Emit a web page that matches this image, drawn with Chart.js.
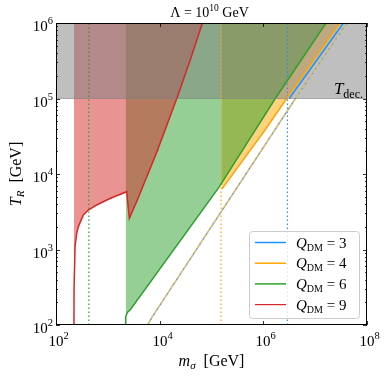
<!DOCTYPE html>
<html>
<head>
<meta charset="utf-8">
<script src="https://cdn.jsdelivr.net/npm/chart.js@4"></script>
<style>
body { margin: 0; background: #fff; }
#wrap { width: 385px; height: 379px; }
</style>
</head>
<body>
<div id="wrap"><canvas id="chart"></canvas></div>
<script>
var xTicks = [1e2, 1e4, 1e6, 1e8];
var yTicks = [1e2, 1e3, 1e4, 1e5, 1e6];
var xTickExp = ['2', '4', '6', '8'];
var yTickExp = ['2', '3', '4', '5', '6'];

// decoupling band
var tDec = 1e5;
var tTop = 1e6;

// Q_DM = 9
var redX = [222, 223, 233, 251, 269, 337, 421, 610, 1096, 2312, 2600, 3715, 8913, 21380, 39800, 66800];
var redY = [100, 300, 1096, 1640, 1995, 2864, 3334, 3890, 4730, 5830, 2590, 4530, 19950, 1e5, 338800, 1e6];

// Q_DM = 6
var greenX = [2213, 2213, 2399, 2692, 141000, 1.70e6, 1.62e7];
var greenY = [100, 129, 148, 158, 6760, 1e5, 1e6];

// Q_DM = 4
var orangeX = [158500, 1.07e6, 2.82e6, 3.02e7];
var orangeY = [6310, 38000, 1e5, 1e6];

// Q_DM = 3
var blueX = [3.16e6, 3.51e7];
var blueY = [1e5, 1e6];

// dashed line
var dashX = [5890, 7080, 4.17e6, 4.07e7];
var dashY = [100, 126, 1e5, 1e6];

// vertical cuts
var greenCut = 430;
var orangeCut = 153000;
var blueCut = 2.92e6;

var red = 'rgb(214, 39, 40)';
var green = 'rgb(44, 160, 44)';
var orange = 'rgb(255, 165, 0)';
var blue = 'rgb(30, 144, 255)';

var serif = '"Liberation Serif", serif';

function pts(xs, ys) {
    var out = [];
    for (var i = 0; i < xs.length; i++) out.push({ x: xs[i], y: ys[i] });
    return out;
}

function vline(x) {
    return [{ x: x, y: 100 }, { x: x, y: 1e6 }];
}

function drawParts(ctx, x, y, parts, align) {
    var w = 0;
    parts.forEach(function (p) { ctx.font = p.f; w += ctx.measureText(p.t).width; });
    if (align == 'center') x -= w / 2;
    if (align == 'right') x -= w;
    ctx.textAlign = 'left';
    ctx.textBaseline = 'alphabetic';
    parts.forEach(function (p) {
        ctx.font = p.f;
        ctx.fillText(p.t, x, y + (p.dy || 0));
        x += ctx.measureText(p.t).width;
    });
}

var decor = {
    id: 'decor',
    afterDraw: function (chart) {
        var ctx = chart.ctx;
        var a = chart.chartArea;
        var xs = chart.scales.x, ys = chart.scales.y;
        ctx.save();
        ctx.fillStyle = '#000';
        ctx.strokeStyle = '#000';

        // frame
        ctx.lineWidth = 1;
        ctx.strokeRect(a.left + 0.5, a.top + 0.5, a.right - a.left - 1, a.bottom - a.top - 1);

        // x ticks
        ctx.lineWidth = 0.8;
        xTicks.forEach(function (v, i) {
            var px = Math.round(xs.getPixelForValue(v)) + 0.5;
            ctx.beginPath();
            ctx.moveTo(px, a.bottom); ctx.lineTo(px, a.bottom - 4);
            ctx.moveTo(px, a.top); ctx.lineTo(px, a.top + 4);
            ctx.stroke();
            drawParts(ctx, px + 2, a.bottom + 20.5, [
                { t: '10', f: '15px ' + serif },
                { t: xTickExp[i], f: '10.5px ' + serif, dy: -7 }
            ], 'center');
        });

        // y ticks, major and minor
        yTicks.forEach(function (v, i) {
            var py = Math.round(ys.getPixelForValue(v)) + 0.5;
            ctx.beginPath();
            ctx.moveTo(a.left, py); ctx.lineTo(a.left + 4, py);
            ctx.moveTo(a.right, py); ctx.lineTo(a.right - 4, py);
            ctx.stroke();
            drawParts(ctx, a.left - 3, py + 7, [
                { t: '10', f: '15px ' + serif },
                { t: yTickExp[i], f: '10.5px ' + serif, dy: -7 }
            ], 'right');
            if (i < yTicks.length - 1) {
                for (var k = 2; k < 10; k++) {
                    var my = Math.round(ys.getPixelForValue(v * k)) + 0.5;
                    ctx.beginPath();
                    ctx.moveTo(a.left, my); ctx.lineTo(a.left + 2, my);
                    ctx.moveTo(a.right, my); ctx.lineTo(a.right - 2, my);
                    ctx.stroke();
                }
            }
        });

        // title
        drawParts(ctx, (a.left + a.right) / 2 - 2, 16.5, [
            { t: '\u039B = 10', f: '14px ' + serif },
            { t: '10', f: '9.5px ' + serif, dy: -5.5 },
            { t: ' GeV', f: '14px ' + serif }
        ], 'center');

        // x label
        drawParts(ctx, (a.left + a.right) / 2, 366, [
            { t: 'm', f: 'italic 16px ' + serif },
            { t: '\u03C3', f: 'italic 11px ' + serif, dy: 3 },
            { t: '  [GeV]', f: '16px ' + serif }
        ], 'center');

        // y label
        ctx.save();
        ctx.translate(21, (a.top + a.bottom) / 2);
        ctx.rotate(-Math.PI / 2);
        drawParts(ctx, 0, 0, [
            { t: 'T', f: 'italic 16px ' + serif },
            { t: 'R', f: 'italic 11px ' + serif, dy: 3 },
            { t: '  [GeV]', f: '16px ' + serif }
        ], 'center');
        ctx.restore();

        // T_dec label
        var decY = ys.getPixelForValue(tDec);
        drawParts(ctx, a.right - 4, decY - 5, [
            { t: 'T', f: 'italic 17px ' + serif },
            { t: 'dec.', f: '12px ' + serif, dy: 4 }
        ], 'right');

        // legend
        var bx = a.right - 118, by = a.bottom - 94, bw = 110, bh = 87;
        ctx.fillStyle = 'rgba(255,255,255,0.8)';
        ctx.strokeStyle = '#cccccc';
        ctx.lineWidth = 1;
        ctx.beginPath();
        ctx.roundRect(bx + 0.5, by + 0.5, bw, bh, 3);
        ctx.fill();
        ctx.stroke();
        var entries = [[blue, '3', 1.5], [orange, '4', 1.5], [green, '6', 1.5], [red, '9', 1.2]];
        entries.forEach(function (e, i) {
            var ry = by + 11.5 + i * 20.7;
            ctx.strokeStyle = e[0];
            ctx.lineWidth = e[2];
            ctx.beginPath();
            ctx.moveTo(bx + 6, ry); ctx.lineTo(bx + 37, ry);
            ctx.stroke();
            ctx.fillStyle = '#000';
            drawParts(ctx, bx + 47, ry + 5, [
                { t: 'Q', f: 'italic 15px ' + serif },
                { t: 'DM', f: '10px ' + serif, dy: 3 },
                { t: ' = ' + e[1], f: '15px ' + serif }
            ], 'left');
        });

        ctx.restore();
    }
};

var lineBase = { showLine: true, pointRadius: 0, tension: 0 };

var datasets = [
    Object.assign({}, lineBase, {
        data: [{ x: 100, y: tDec }, { x: 1e8, y: tDec }],
        borderColor: 'rgba(128,128,128,0.6)', borderWidth: 1,
        backgroundColor: 'rgba(128,128,128,0.5)', fill: 'end'
    }),
    Object.assign({}, lineBase, {
        data: pts(redX, redY), borderColor: red, borderWidth: 1.5,
        backgroundColor: 'rgba(214,39,40,0.5)', fill: 'end'
    }),
    Object.assign({}, lineBase, {
        data: pts(greenX, greenY), borderColor: green, borderWidth: 1.5,
        backgroundColor: 'rgba(44,160,44,0.5)', fill: 'end'
    }),
    Object.assign({}, lineBase, {
        data: pts(orangeX, orangeY), borderColor: orange, borderWidth: 1.5,
        backgroundColor: 'rgba(255,165,0,0.5)', fill: 'end'
    }),
    Object.assign({}, lineBase, {
        data: pts(blueX, blueY), borderColor: blue, borderWidth: 1.5, fill: false
    }),
    Object.assign({}, lineBase, {
        data: pts(dashX, dashY), borderColor: 'rgba(90,110,255,0.9)', borderWidth: 1.1,
        borderDash: [1, 5], fill: false
    }),
    Object.assign({}, lineBase, {
        data: pts(dashX, dashY), borderColor: 'rgb(200,190,125)', borderWidth: 1.6, fill: false
    }),
    Object.assign({}, lineBase, {
        data: vline(greenCut), borderColor: green, borderWidth: 1.2,
        borderDash: [1.5, 2.5], fill: false
    }),
    Object.assign({}, lineBase, {
        data: vline(orangeCut), borderColor: orange, borderWidth: 1.2,
        borderDash: [1.5, 2.5], fill: false
    }),
    Object.assign({}, lineBase, {
        data: vline(blueCut), borderColor: blue, borderWidth: 1.2,
        borderDash: [1.5, 2.5], fill: false
    })
];

new Chart(document.getElementById('chart').getContext('2d'), {
    type: 'scatter',
    data: { datasets: datasets },
    options: {
        responsive: true,
        maintainAspectRatio: false,
        animation: false,
        events: [],
        layout: { padding: { left: 56, right: 18, top: 23, bottom: 54 } },
        plugins: {
            legend: { display: false },
            tooltip: { enabled: false },
            filler: { drawTime: 'beforeDatasetsDraw' }
        },
        scales: {
            x: { type: 'logarithmic', min: 1e2, max: 1e8, display: false },
            y: { type: 'logarithmic', min: 1e2, max: 1e6, display: false }
        }
    },
    plugins: [decor]
});
</script>
</body>
</html>
